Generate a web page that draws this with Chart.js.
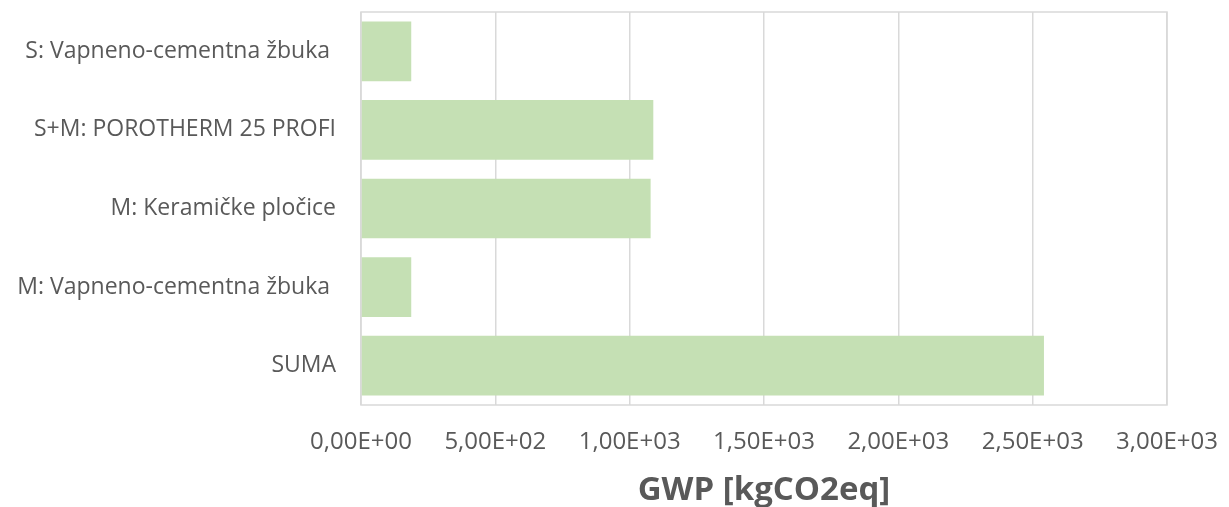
<!DOCTYPE html>
<html lang="hr">
<head>
    <meta charset="UTF-8">
    <script src="https://cdnjs.cloudflare.com/ajax/libs/Chart.js/4.4.0/chart.umd.min.js"></script>
    <style>
        body{
            margin: 0;
            padding: 0;
            background: white;
        }
        #gwp{
            display: block;
        }
    </style>
    <title>GWP</title>
</head>
<body>
    <canvas id="gwp" width="1229" height="507"></canvas>
    <script>
        var categories = ['S: Vapneno-cementna žbuka ', 'S+M: POROTHERM 25 PROFI', 'M: Keramičke pločice', 'M: Vapneno-cementna žbuka ', 'SUMA'];
        var gwpValues = [187, 1088, 1078, 187, 2542];
        var xTicks = [0, 500, 1000, 1500, 2000, 2500, 3000];
        var axisTitle = 'GWP [kgCO2eq]';

        // 5.00e+2 -> 5,00E+02 like the excel export
        function sciLabel(v){
            var parts = Number(v).toExponential(2).split('e');
            var exp = parseInt(parts[1], 10);
            var sign = exp < 0 ? '-' : '+';
            var e = Math.abs(exp).toString().padStart(2, '0');
            return parts[0].replace('.', ',') + 'E' + sign + e;
        }

        const frame = {
            id: 'frame',
            beforeDatasetsDraw(chart){
                const a = chart.chartArea, c = chart.ctx;
                c.save();
                c.strokeStyle = '#d9d9d9';
                c.lineWidth = 1.5;
                c.strokeRect(a.left, a.top, a.right - a.left, a.bottom - a.top);
                c.restore();
            }
        };

        const ctx = document.getElementById('gwp').getContext('2d');
        const chart = new Chart(ctx, {
            type: 'bar',
            data: {
                labels: categories,
                datasets: [{
                    data: gwpValues,
                    backgroundColor: '#c5e0b4',
                    categoryPercentage: 1,
                    barPercentage: 0.76
                }]
            },
            options: {
                indexAxis: 'y',
                responsive: false,
                animation: false,
                layout: { padding: { top: 12, right: 62, left: 0, bottom: 0 } },
                plugins: {
                    legend: { display: false },
                    tooltip: { enabled: false }
                },
                scales: {
                    x: {
                        min: 0,
                        max: 3000,
                        afterBuildTicks(s){ s.ticks = xTicks.map(v => ({ value: v })); },
                        afterFit(s){ s.height = 102; s.paddingRight = 0; s.paddingLeft = 0; },
                        grid: { color: '#d9d9d9', lineWidth: 1.5, drawTicks: false },
                        border: { display: false },
                        ticks: {
                            padding: 23,
                            color: '#595959',
                            font: { family: 'Open Sans', size: 24 },
                            maxRotation: 0,
                            callback: v => sciLabel(v)
                        },
                        title: {
                            display: true,
                            text: axisTitle,
                            color: '#595959',
                            font: { family: 'Open Sans', size: 33, weight: 'bold' },
                            padding: { top: 4, bottom: -3 }
                        }
                    },
                    y: {
                        afterFit(s){ s.width = 361; s.paddingTop = 0; s.paddingBottom = 0; },
                        grid: { display: false, drawTicks: false },
                        border: { display: false },
                        ticks: {
                            padding: 25,
                            color: '#595959',
                            font: { family: 'Open Sans', size: 23 }
                        }
                    }
                }
            },
            plugins: [frame]
        });
    </script>
</body>
</html>
